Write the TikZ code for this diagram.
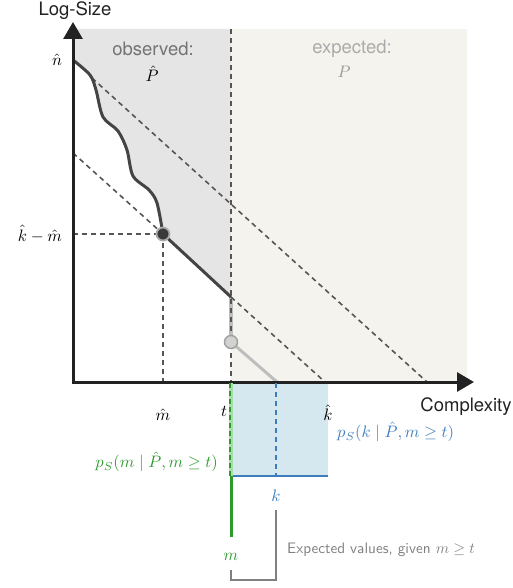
\documentclass[tikz,border=0pt]{standalone}
\usepackage{graphicx}
\usepackage{fontspec}
\newfontfamily\helv{TeX Gyre Heros}
\usetikzlibrary{arrows.meta}
\definecolor{axisc}{HTML}{222222}
\definecolor{dashc}{HTML}{555555}
\definecolor{curvec}{HTML}{444444}
\definecolor{obsfill}{HTML}{E5E5E5}
\definecolor{expfill}{HTML}{F5F3ED}
\definecolor{lblue}{HTML}{D5E8F0}
\definecolor{dblue}{HTML}{3D7DBD}
\definecolor{dgreen}{HTML}{2E9A2E}
\definecolor{lgreen}{HTML}{A8DCA8}
\definecolor{lgray}{HTML}{BEBEBE}
\definecolor{brk}{HTML}{808080}
\newcommand\ms[1]{\scalebox{1.66}{#1}}
\begin{document}
\begin{tikzpicture}[x=1pt,y=-1pt,
  dsh/.style={draw=dashc, line width=1.6pt, dash pattern=on 5pt off 4pt},
  axislbl/.style={font=\helv\fontsize{18.5}{20}\selectfont, text=axisc, inner sep=0pt},
  mlbl/.style={inner sep=0pt},
  arr/.style={{Triangle[length=17pt,width=19pt]}-{Triangle[length=17pt,width=19pt]}}
]
\useasboundingbox (0,0) rectangle (513,588);
% key points
\coordinate (O) at (73,382);
\coordinate (Ytip) at (73,22);
\coordinate (Xtip) at (474,382);
\coordinate (T0) at (231,29);
\coordinate (Tax) at (231,382);
\coordinate (Tbr) at (231,297);
\coordinate (Tc) at (231,342);
\coordinate (Cg) at (277,382);
\coordinate (Dm) at (163,234);
\coordinate (DmY) at (73,234);
\coordinate (DmX) at (163,382);
\coordinate (A0) at (73,153);
\coordinate (A1) at (325,382);
\coordinate (B0) at (92,78);
\coordinate (B1) at (427,382);
\coordinate (Bx0) at (231,383);
\coordinate (Bx1) at (328,476);
\coordinate (Bl) at (231,476);
\coordinate (Br) at (328,476);
\coordinate (Kt) at (276,383);
\coordinate (Kb) at (276,476);
\coordinate (Gb) at (231,537);
\coordinate (Q1) at (231,570);
\coordinate (Q2) at (231,580);
\coordinate (Q3) at (276,580);
\coordinate (Q4) at (276,510);
% regions
\fill[expfill] (T0) rectangle (467,382);
\fill[obsfill] plot[smooth,tension=0.5] coordinates {(73,60) (90,75) (96,90) (103,117) (118,131) (127,150) (133,176) (149,190) (157,203) (163,234)} -- (Tbr) -- (T0) -- (73,29) -- cycle;
\fill[lblue] (Bx0) rectangle (Bx1);
% light gray pieces
\draw[lgray, line width=3.5pt] (Tbr) -- (Tc);
\draw[lgray, line width=3pt] (Tc) -- (Cg);
% dashed lines
\draw[dsh] (T0) -- (Tax);
\draw[dsh] (A0) -- (Dm);
\draw[dsh] (Tbr) -- (A1);
\draw[dsh] (B0) -- (B1);
\draw[dsh] (DmY) -- (Dm) -- (DmX);
% observed curve
\draw[curvec, line width=3pt, line join=round] plot[smooth,tension=0.5] coordinates {(73,60) (90,75) (96,90) (103,117) (118,131) (127,150) (133,176) (149,190) (157,203) (163,234)} -- (Tbr);
% axes
\draw[axisc, line width=3pt, arr] (Ytip) -- (O) -- (Xtip);
% circles
\fill[curvec!85!black, draw=lgray!90!black, line width=1.8pt] (Dm) circle (6.5pt);
\fill[lgray!70!white, draw=lgray!85!black, line width=1.5pt] (Tc) circle (6.5pt);
% blue
\draw[dblue, line width=2pt, dash pattern=on 5pt off 4pt] (Kt) -- (Kb);
\draw[dblue, line width=2.5pt] (Bl) -- (Br);
% green
\draw[lgreen, line width=4pt] (Bx0) -- (Bl);
\draw[dgreen, line width=2pt, dash pattern=on 5pt off 3pt] ([xshift=-1pt]Bx0) -- ([xshift=-1pt]Bl);
\draw[dgreen, line width=3pt] (Bl) -- (Gb);
% bracket
\draw[brk, line width=1.8pt] (Q1) -- (Q2) -- (Q3) -- (Q4);
% labels
\node[axislbl] (ylab) at (75,11) {Log-Size};
\node[axislbl] (xlab) at (466,407) {Complexity};
\node[axislbl, text=black!55] (obs) at (153,49) {observed:};
\node[mlbl] (obsP) at (152,74) {\ms{$\hat P$}};
\node[axislbl, text=black!33] (exp) at (352,49) {expected:};
\node[mlbl, text=black!40] (expP) at (344,72) {\ms{$P$}};
\node[mlbl] (nhat) at (57,60) {\ms{$\hat n$}};
\node[mlbl] (kmm) at (40,234) {\ms{$\hat k-\hat m$}};
\node[mlbl] (mhat) at (163,415) {\ms{$\hat m$}};
\node[mlbl] (tl) at (224,411) {\ms{$t$}};
\node[mlbl] (khat) at (328,413) {\ms{$\hat k$}};
\node[mlbl, text=dblue, anchor=west] (pk) at (337,432) {\ms{$p_S(k\mid\hat P,m\ge t)$}};
\node[mlbl, text=dgreen, anchor=east] (pm) at (218,462) {\ms{$p_S(m\mid\hat P,m\ge t)$}};
\node[mlbl, text=dblue] (kl) at (276,496) {\ms{$k$}};
\node[mlbl, text=dgreen] (ml) at (231,557) {\ms{$m$}};
\node[inner sep=0pt, anchor=west, text=black!50, font=\sffamily] (ev) at (287,550) {\scalebox{1.52}{Expected values, given $m\ge t$}};
\end{tikzpicture}
\end{document}
